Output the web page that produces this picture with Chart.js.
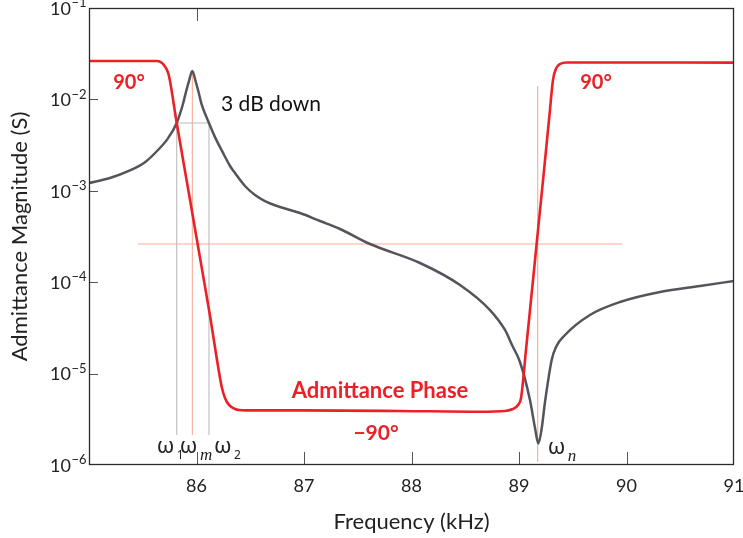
<!DOCTYPE html>
<html>
<head>
<meta charset="utf-8">
<script src="https://cdn.jsdelivr.net/npm/chart.js@4/dist/chart.umd.min.js"></script>
<style>
  html, body { margin: 0; padding: 0; background: #ffffff; }
  #wrap { width: 743px; height: 538px; }
</style>
</head>
<body>
<div id="wrap"><canvas id="c" width="743" height="538"></canvas></div>
<script>
// Admittance magnitude (S) against frequency (kHz)
const magFreq = [85.000, 85.195, 85.381, 85.521, 85.642, 85.726, 85.816, 85.874, 85.902, 85.930,
                 85.961, 85.991, 86.019, 86.047, 86.116, 86.172, 86.237, 86.312, 86.358, 86.451,
                 86.544, 86.637, 86.777, 86.963, 87.149, 87.335, 87.614, 88.079, 88.451, 88.730,
                 88.870, 88.935, 89.009, 89.102, 89.149, 89.180, 89.209, 89.242, 89.304, 89.344,
                 89.428, 89.660, 89.940, 90.312, 90.684, 91.000];
const magS = [1.217e-3, 1.380e-3, 1.669e-3, 2.054e-3, 2.795e-3, 3.632e-3, 5.516e-3, 8.90e-3, 1.205e-2, 1.589e-2,
              2.045e-2, 1.589e-2, 1.205e-2, 8.90e-3, 5.516e-3, 3.867e-3, 2.734e-3, 1.868e-3, 1.566e-3, 1.128e-3,
              8.99e-4, 7.73e-4, 6.65e-4, 5.71e-4, 4.67e-4, 3.82e-4, 2.617e-4, 1.622e-4, 9.32e-5, 4.96e-5,
              3.00e-5, 2.055e-5, 1.339e-5, 5.14e-6, 2.54e-6, 1.719e-6, 2.415e-6, 4.89e-6, 1.408e-5, 1.954e-5,
              2.644e-5, 4.377e-5, 6.07e-5, 7.81e-5, 9.09e-5, 1.031e-4];

// Admittance phase (degrees) against frequency (kHz)
const phaseFreq = [85.000, 85.633, 85.679, 85.716, 85.744, 85.816, 85.940, 86.033, 86.126, 86.200,
                   86.237, 86.265, 86.302, 86.358, 86.451, 86.963, 87.893, 88.637, 88.870, 88.944,
                   88.991, 89.019, 89.065, 89.121, 89.177, 89.233, 89.288, 89.316, 89.344, 89.381,
                   89.447, 91.000];
const phaseDeg = [90.0, 90.0, 89.0, 86.4, 82.3, 58.1, 18.5, -11.3, -41.1, -66.9,
                  -78.2, -83.3, -86.9, -89.0, -89.7, -89.7, -90.0, -90.4, -90.0, -89.0,
                  -86.9, -83.3, -58.6, -27.8, 3.1, 33.9, 64.8, 80.2, 86.1, 88.5,
                  89.3, 89.2];

// Marker frequencies (kHz): half-power points, maximum and minimum admittance
const halfPowerFreq = [85.816, 86.116];
const maxFreq = 85.961;
const minFreq = 89.174;
const halfPowerLevel = 5.516e-3;
const peakLevel = 2.045e-2;
const markerFloor = 2.13e-6;
const minLineSpan = [1.08e-6, 1.402e-2];
const refLineFreq = [85.456, 89.958];
const refLineLevel = 2.617e-4;

// Axis ticks
const xTicks = [85, 86, 87, 88, 89, 90, 91];
const xTopTicks = [86];
const yDecades = [-6, -5, -4, -3, -2, -1];

const RED = 'rgb(236,32,38)';
const GRAY = 'rgb(84,84,92)';
const SALMON = 'rgb(248,172,150)';
const LIGHT = 'rgb(188,188,188)';
const FONT = 'Lato, "Open Sans", sans-serif';

const zip = (xs, ys) => xs.map((x, i) => ({ x: x, y: ys[i] }));
const seg = (color, pts, axis) => ({
  data: pts, yAxisID: axis || 'y', borderColor: color, borderWidth: 1.1,
  pointRadius: 0, tension: 0, fill: false
});

const overlay = {
  id: 'overlay',
  afterDraw(chart) {
    const { ctx, chartArea: a, scales } = chart;
    const xs = scales.x, ys = scales.y, ps = scales.y2;
    ctx.save();

    // inward tick marks
    ctx.strokeStyle = '#555';
    ctx.lineWidth = 1;
    ctx.beginPath();
    xTicks.forEach(v => {
      if (v <= xs.min || v >= xs.max) return;
      const px = Math.round(xs.getPixelForValue(v)) + 0.5;
      ctx.moveTo(px, a.bottom); ctx.lineTo(px, a.bottom - 13);
    });
    xTopTicks.forEach(v => {
      const px = Math.round(xs.getPixelForValue(v)) + 0.5;
      ctx.moveTo(px, a.top); ctx.lineTo(px, a.top + 13);
    });
    yDecades.forEach(k => {
      const v = Math.pow(10, k);
      if (v <= ys.min || v >= ys.max) return;
      const py = Math.round(ys.getPixelForValue(v)) + 0.5;
      ctx.moveTo(a.left, py); ctx.lineTo(a.left + 9, py);
    });
    ctx.stroke();

    // frame
    ctx.strokeStyle = '#2b2b2b';
    ctx.lineWidth = 1.3;
    ctx.strokeRect(a.left + 0.5, a.top + 0.5, a.right - a.left - 1, a.bottom - a.top - 1);

    // y tick labels as powers of ten
    ctx.fillStyle = '#222';
    yDecades.forEach(k => {
      const py = ys.getPixelForValue(Math.pow(10, k));
      ctx.font = '18px ' + FONT;
      ctx.textAlign = 'right';
      ctx.textBaseline = 'middle';
      ctx.fillText('10', 71, py + 1);
      ctx.font = '13px ' + FONT;
      ctx.textAlign = 'left';
      ctx.fillText('\u2212' + Math.abs(k), 71.5, py - 5);
    });

    // axis titles
    ctx.font = '22px ' + FONT;
    ctx.textAlign = 'center';
    ctx.textBaseline = 'middle';
    ctx.fillStyle = '#222';
    ctx.fillText('Frequency (kHz)', (a.left + a.right) / 2, 522);
    ctx.save();
    ctx.translate(20, (a.top + a.bottom) / 2);
    ctx.rotate(-Math.PI / 2);
    ctx.fillText('Admittance Magnitude (S)', 0, 0);
    ctx.restore();

    // curve labels
    ctx.fillStyle = RED;
    ctx.font = 'bold 20px ' + FONT;
    ctx.fillText('90\u00B0', xs.getPixelForValue(85.372), ps.getPixelForValue(79.2));
    ctx.fillText('90\u00B0', xs.getPixelForValue(89.716), ps.getPixelForValue(79.2));
    ctx.font = 'bold 21px ' + FONT;
    ctx.fillText('\u221290\u00B0', xs.getPixelForValue(87.67), ps.getPixelForValue(-101.3));
    ctx.font = 'bold 22px ' + FONT;
    ctx.fillText('Admittance Phase', xs.getPixelForValue(87.707), ps.getPixelForValue(-79.8));

    ctx.fillStyle = '#111';
    ctx.font = '21px ' + FONT;
    ctx.textAlign = 'left';
    ctx.fillText('3 dB down', xs.getPixelForValue(86.228), ys.getPixelForValue(8.9e-3));

    // frequency markers
    const omega = (sub, italic, xLeft, yMid) => {
      ctx.fillStyle = '#222';
      ctx.textAlign = 'left';
      ctx.textBaseline = 'middle';
      ctx.font = '22px "Noto Sans", "DejaVu Sans", sans-serif';
      ctx.fillText('\u03C9', xLeft, yMid);
      const w = ctx.measureText('\u03C9').width;
      ctx.font = italic ? 'italic 17px "Liberation Serif", "DejaVu Serif", serif'
                        : '12px "Noto Sans", "DejaVu Sans", sans-serif';
      ctx.fillText(sub, xLeft + w + 2.5, yMid + 9);
    };
    omega('1', false, xs.getPixelForValue(halfPowerFreq[0]) - 20, 447);
    omega('m', true, xs.getPixelForValue(maxFreq) - 12.5, 447);
    omega('2', false, xs.getPixelForValue(halfPowerFreq[1]) + 5, 447);
    omega('n', true, xs.getPixelForValue(minFreq) + 10, 448);

    ctx.restore();
  }
};

new Chart(document.getElementById('c'), {
  type: 'line',
  data: {
    datasets: [
      {
        label: 'Admittance Phase',
        data: zip(phaseFreq, phaseDeg), yAxisID: 'y2',
        borderColor: RED, borderWidth: 2.6, pointRadius: 0,
        cubicInterpolationMode: 'monotone', fill: false
      },
      {
        label: 'Admittance Magnitude',
        data: zip(magFreq, magS), yAxisID: 'y',
        borderColor: GRAY, borderWidth: 2.5, pointRadius: 0,
        cubicInterpolationMode: 'monotone', fill: false
      },
      seg(LIGHT, [{ x: halfPowerFreq[0], y: halfPowerLevel }, { x: halfPowerFreq[1], y: halfPowerLevel }]),
      seg(LIGHT, [{ x: halfPowerFreq[0], y: halfPowerLevel }, { x: halfPowerFreq[0], y: markerFloor }]),
      seg(LIGHT, [{ x: halfPowerFreq[1], y: halfPowerLevel }, { x: halfPowerFreq[1], y: markerFloor }]),
      seg(SALMON, [{ x: maxFreq, y: peakLevel }, { x: maxFreq, y: markerFloor }]),
      seg(SALMON, [{ x: minFreq, y: minLineSpan[1] }, { x: minFreq, y: minLineSpan[0] }]),
      seg(SALMON, [{ x: refLineFreq[0], y: refLineLevel }, { x: refLineFreq[1], y: refLineLevel }])
    ]
  },
  options: {
    responsive: false,
    devicePixelRatio: 1,
    animation: false,
    layout: { padding: { top: 8, right: 9, left: 0, bottom: 0 } },
    plugins: { legend: { display: false }, tooltip: { enabled: false } },
    scales: {
      x: {
        type: 'linear', min: 85, max: 91,
        afterBuildTicks: s => { s.ticks = xTicks.map(v => ({ value: v })); },
        afterFit: s => { s.height = 73; s.paddingLeft = 0; s.paddingRight = 0; },
        ticks: {
          autoSkip: false, maxRotation: 0, padding: 10, color: '#222',
          font: { family: FONT, size: 18 },
          callback: v => (v === 85 ? '' : String(v))
        },
        grid: { display: false, drawTicks: false },
        border: { display: false }
      },
      y: {
        type: 'logarithmic', position: 'left', min: 1e-6, max: 1e-1,
        afterFit: s => { s.width = 89; s.paddingTop = 0; s.paddingBottom = 0; },
        ticks: { display: false },
        grid: { display: false, drawTicks: false },
        border: { display: false }
      },
      y2: {
        type: 'linear', position: 'right', min: -117.8, max: 117.3,
        display: false
      }
    }
  },
  plugins: [overlay]
});
</script>
</body>
</html>
